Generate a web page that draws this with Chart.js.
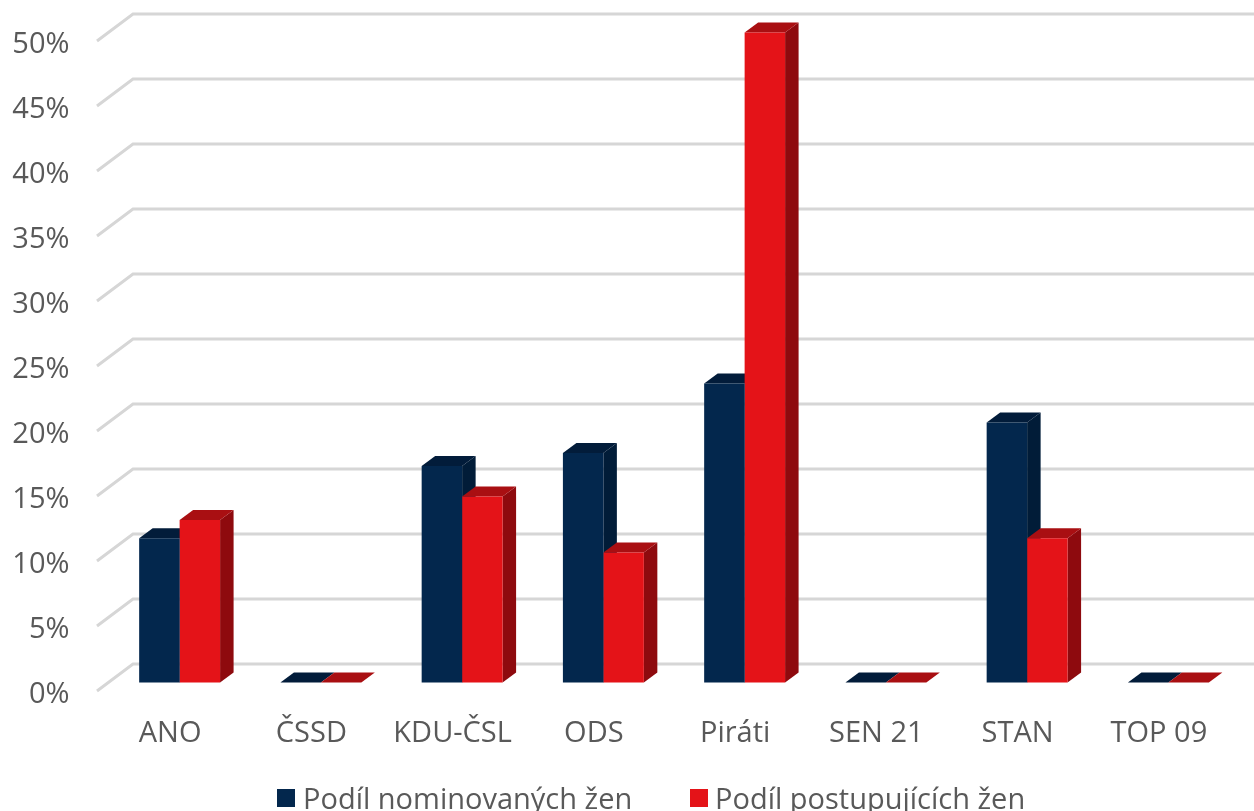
<!DOCTYPE html>
<html lang="cs">
<head>
<meta charset="utf-8">
<title>Podíl žen</title>
<script src="https://cdn.jsdelivr.net/npm/chart.js@4.4.1/dist/chart.umd.min.js"></script>
<style>
  html, body { margin: 0; padding: 0; background: #fff; overflow: hidden; }
  #wrap { position: relative; width: 1254px; height: 811px; overflow: hidden; }
  #legend { position: absolute; left: 0; top: 0; width: 1254px; height: 811px; pointer-events: none;
    font: 29px "Open Sans", sans-serif; color: #595959; }
  .box { position: absolute; top: 789px; width: 18px; height: 18px; }
  .lbl { position: absolute; top: 780px; white-space: nowrap; line-height: 36px; }
</style>
</head>
<body>
<div id="wrap">
  <canvas id="chart" width="1254" height="811"></canvas>
  <div id="legend"></div>
</div>
<script>
/* ── DATA ── */
const categories = ["ANO", "ČSSD", "KDU-ČSL", "ODS", "Piráti", "SEN 21", "STAN", "TOP 09"];
const nominated = [11.1, 0, 16.65, 17.65, 23, 0, 20, 0];
const advancing = [12.5, 0, 14.3, 10, 50, 0, 11.1, 0];
const seriesNames = ["Podíl nominovaných žen", "Podíl postupujících žen"];

/* ── PALETTE ── */
const NAVY = { front: "#03274d", top: "#021c3a", side: "#011c38" };
const RED = { front: "#e41318", top: "#a90f12", side: "#8e0a0e" };
const FACES = [NAVY, RED];
const GRID = "#d6d6d6";
const INK = "#595959";
const FONT = "Open Sans";

/* floor depth of the fake 3D box */
const BAR_SHIFT = 9.5, DX = 13.5, DY = -10;
const LEFT_FRONT = 97, LEFT_BACK = 133, UP_FRONT = 8.5, UP_BACK = -18.5;

/* ── GRID WALLS (drawn under the bars) ── */
const wallPlugin = {
  id: "wall",
  beforeDatasetsDraw(chart) {
    const { ctx, scales: { y }, width } = chart;
    ctx.save();
    ctx.lineWidth = 3;
    ctx.strokeStyle = GRID;
    y.ticks.forEach((t) => {
      const py = y.getPixelForValue(t.value);
      ctx.beginPath();
      ctx.moveTo(LEFT_FRONT, py + UP_FRONT);
      ctx.lineTo(LEFT_BACK, py + UP_BACK);
      ctx.lineTo(width, py + UP_BACK);
      ctx.stroke();
    });
    ctx.restore();
  },
};

/* ── BOX FACES: top and side of every bar, fronts come from Chart.js ── */
const boxPlugin = {
  id: "box",
  beforeDatasetsDraw(chart) {
    const { ctx } = chart;
    ctx.save();
    ctx.translate(BAR_SHIFT, 0);
    chart.data.datasets.forEach((ds, i) => {
      chart.getDatasetMeta(i).data.forEach((bar) => {
        const l = bar.x - bar.width / 2, r = bar.x + bar.width / 2;
        const t = bar.y, b = bar.base;
        ctx.fillStyle = FACES[i].side;
        ctx.beginPath();
        ctx.moveTo(r, t); ctx.lineTo(r + DX, t + DY);
        ctx.lineTo(r + DX, b + DY); ctx.lineTo(r, b);
        ctx.closePath(); ctx.fill();
        ctx.fillStyle = FACES[i].top;
        ctx.beginPath();
        ctx.moveTo(l, t); ctx.lineTo(l + DX, t + DY);
        ctx.lineTo(r + DX, t + DY); ctx.lineTo(r, t);
        ctx.closePath(); ctx.fill();
      });
    });
    ctx.restore();
    ctx.save();
    ctx.translate(BAR_SHIFT, 0);
  },
  afterDatasetsDraw(chart) {
    chart.ctx.restore();
  },
};

const chart = new Chart(document.getElementById("chart"), {
  type: "bar",
  data: {
    labels: categories,
    datasets: [
      { label: seriesNames[0], data: nominated, backgroundColor: NAVY.front, clip: false },
      { label: seriesNames[1], data: advancing, backgroundColor: RED.front, clip: false },
    ],
  },
  options: {
    responsive: false,
    animation: false,
    devicePixelRatio: 1,
    layout: { padding: { top: 32.5, right: 24.5, left: 0, bottom: 0 } },
    datasets: { bar: { categoryPercentage: 0.573, barPercentage: 1 } },
    plugins: { legend: { display: false }, tooltip: { enabled: false } },
    scales: {
      x: {
        grid: { display: false },
        border: { display: false },
        ticks: {
          color: INK,
          font: { size: 29, family: FONT },
          padding: 26,
          maxRotation: 0,
          autoSkip: false,
        },
        afterFit(s) { s.height = 128.5; },
      },
      y: {
        min: 0,
        max: 50,
        grid: { display: false, drawTicks: false },
        border: { display: false },
        ticks: {
          stepSize: 5,
          color: INK,
          font: { size: 29, family: FONT },
          padding: 30,
          labelOffset: 12,
          callback: (v) => v + "%",
        },
        afterFit(s) { s.width = 99.5; s.paddingTop = 0; s.paddingBottom = 0; },
      },
    },
  },
  plugins: [wallPlugin, boxPlugin],
});

/* ── LEGEND ── */
const legendBoxX = [277, 690];
const legendTextX = [303, 715];
const legend = document.getElementById("legend");
chart.data.datasets.forEach((ds, i) => {
  const box = document.createElement("div");
  box.className = "box";
  box.style.left = legendBoxX[i] + "px";
  box.style.background = ds.backgroundColor;
  const lbl = document.createElement("div");
  lbl.className = "lbl";
  lbl.style.left = legendTextX[i] + "px";
  lbl.textContent = ds.label;
  legend.appendChild(box);
  legend.appendChild(lbl);
});
</script>
</body>
</html>
